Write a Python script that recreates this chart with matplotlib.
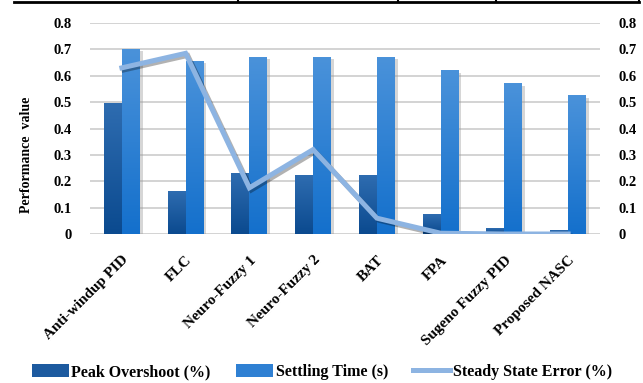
import matplotlib
matplotlib.use("Agg")
import matplotlib.pyplot as plt
import matplotlib.patheffects as pe
import numpy as np
from matplotlib.colors import LinearSegmentedColormap
from matplotlib.lines import Line2D
from matplotlib.patches import Patch

controllers = ["Anti-windup PID", "FLC", "Neuro-Fuzzy 1", "Neuro-Fuzzy 2",
               "BAT", "FPA", "Sugeno Fuzzy PID", "Proposed NASC"]
peak_overshoot = [0.495, 0.16, 0.23, 0.22, 0.22, 0.075, 0.02, 0.015]
settling_time = [0.70, 0.655, 0.67, 0.67, 0.67, 0.62, 0.57, 0.525]
steady_state_error = [0.63, 0.685, 0.175, 0.32, 0.06, 0.003, 0.0, 0.0]
yticks = [0, 0.1, 0.2, 0.3, 0.4, 0.5, 0.6, 0.7, 0.8]

# colores (abajo -> arriba) del degradado de cada serie
DARK = ("#0b4a8f", "#2e6cb0")
LIGHT = ("#1470cc", "#4a92da")
LINE = "#8db4e2"
SERIF = "Liberation Serif"

fig = plt.figure(figsize=(6.43, 3.83), dpi=100)
W, H = 643, 383
ax = fig.add_axes([90 / W, 1 - 234 / H, 510 / W, 211 / H])

x = np.arange(len(controllers))
w = 0.282


def gradient_bars(xs, vals, colors):
    cmap = LinearSegmentedColormap.from_list("g", colors)
    bars = ax.bar(xs, vals, w, color=colors[0], zorder=2,
                  path_effects=[pe.SimplePatchShadow(offset=(2.0, -1.5),
                                                     shadow_rgbFace="#999999",
                                                     alpha=0.4),
                                pe.Normal()])
    grad = np.linspace(0, 1, 64).reshape(-1, 1)
    for b in bars:
        x0, y0 = b.get_x(), b.get_y()
        ax.imshow(grad, extent=[x0, x0 + b.get_width(), y0, y0 + b.get_height()],
                  origin="lower", cmap=cmap, aspect="auto", zorder=2.5)
    return bars


gradient_bars(x - w / 2, peak_overshoot, DARK)
gradient_bars(x + w / 2, settling_time, LIGHT)

ax.plot(x, steady_state_error, color=LINE, linewidth=3.6, zorder=4,
        solid_joinstyle="miter",
        path_effects=[pe.SimpleLineShadow(offset=(1.5, -1.5), alpha=0.3),
                      pe.Normal()])

ax.set_xlim(-0.5, len(controllers) - 0.5)
ax.set_ylim(0, 0.8)
ax.set_yticks(yticks)
ax.set_yticklabels(["0"] + ["%.1f" % t for t in yticks[1:]])
ax.grid(axis="y", color="#d0d0d0", linewidth=1.3, zorder=0)
ax.set_axisbelow(True)
for s in ax.spines.values():
    s.set_visible(False)
ax.tick_params(axis="both", length=0)
ax.tick_params(axis="y", pad=13)
for lab in ax.get_yticklabels():
    lab.set_fontfamily(SERIF)
    lab.set_fontweight("bold")
    lab.set_fontsize(10.5)

ax.set_xticks(x)
ax.set_xticklabels(controllers, rotation=45, ha="right", va="top",
                   rotation_mode="anchor", fontfamily=SERIF,
                   fontweight="bold", fontsize=11)
ax.tick_params(axis="x", pad=14)

ax2 = ax.twinx()
ax2.set_ylim(0, 0.8)
ax2.set_yticks(yticks)
ax2.set_yticklabels(["0"] + ["%.1f" % t for t in yticks[1:]])
for s in ax2.spines.values():
    s.set_visible(False)
ax2.tick_params(axis="y", length=0, pad=13)
for lab in ax2.get_yticklabels():
    lab.set_fontfamily(SERIF)
    lab.set_fontweight("bold")
    lab.set_fontsize(10.5)

fig.text(27 / W, 1 - 155 / H, "Performance  value", rotation=90,
         ha="center", va="center", fontfamily=SERIF, fontweight="bold",
         fontsize=10)

handles = [Patch(facecolor="#1d5a9f"), Patch(facecolor="#2f80d3"),
           Line2D([], [], color=LINE, linewidth=3.6)]
labels = ["Peak Overshoot (%)", "Settling Time (s)", "Steady State Error (%)"]
fig.legend(handles, labels, loc="center", ncol=3, frameon=False,
           bbox_to_anchor=(322 / W, 1 - 372 / H), handlelength=2.3,
           handleheight=0.8, handletextpad=0.15, columnspacing=1.6,
           prop={"family": SERIF, "weight": "bold", "size": 11.5})

# borde inferior de la tabla de arriba
fig.add_artist(Line2D([14 / W, 639 / W], [1 - 2 / H, 1 - 2 / H],
                      transform=fig.transFigure, color="black", linewidth=2))
for xv in (238, 398, 496, 639):
    fig.add_artist(Line2D([xv / W, xv / W], [1 - 2 / H, 1.0],
                          transform=fig.transFigure, color="black",
                          linewidth=1.5))

fig.savefig("out.png", dpi=100)
